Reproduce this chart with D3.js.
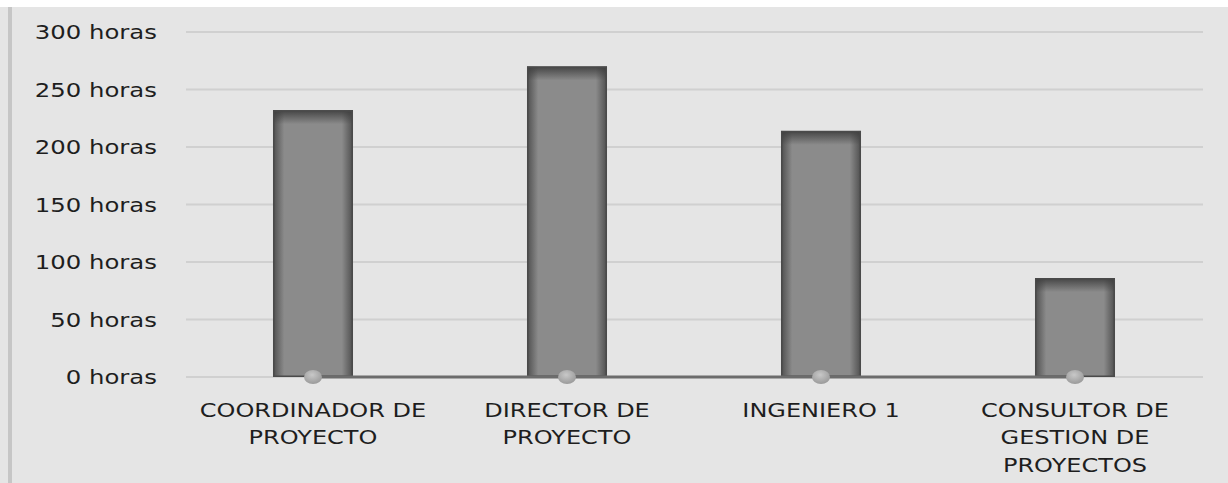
<!DOCTYPE html>
<html>
<head>
<meta charset="utf-8">
<script src="https://cdn.jsdelivr.net/npm/d3@7"></script>
<style>
  html, body { margin: 0; padding: 0; background: #fff; }
  svg { display: block; }
  text { font-family: "DejaVu Sans", Verdana, sans-serif; fill: #1e1e1e; }
</style>
</head>
<body>
<svg id="svg" width="1228" height="483"></svg>
<script>
var categories = [
  ["COORDINADOR DE", "PROYECTO"],
  ["DIRECTOR DE", "PROYECTO"],
  ["INGENIERO 1"],
  ["CONSULTOR DE", "GESTION DE", "PROYECTOS"]
];
var horas = [232, 270, 214, 86];
var lineValues = [0, 0, 0, 0];
var yTicks = [0, 50, 100, 150, 200, 250, 300];

var svg = d3.select("#svg");

// background panel
svg.append("rect").attr("x", 0).attr("y", 7).attr("width", 1228).attr("height", 476).attr("fill", "#e5e5e5");
svg.append("rect").attr("x", 8).attr("y", 7).attr("width", 4).attr("height", 476).attr("fill", "#c6c6c6");

var defs = svg.append("defs");
var gH = defs.append("linearGradient").attr("id", "barH").attr("x1", 0).attr("x2", 1).attr("y1", 0).attr("y2", 0);
gH.append("stop").attr("offset", "0%").attr("stop-color", "#4e4e4e");
gH.append("stop").attr("offset", "14%").attr("stop-color", "#8b8b8b");
gH.append("stop").attr("offset", "86%").attr("stop-color", "#8b8b8b");
gH.append("stop").attr("offset", "100%").attr("stop-color", "#4e4e4e");
var gV = defs.append("linearGradient").attr("id", "barV").attr("x1", 0).attr("x2", 0).attr("y1", 0).attr("y2", 1);
gV.append("stop").attr("offset", "0").attr("stop-color", "#3c3c3c").attr("stop-opacity", 0.9);
gV.append("stop").attr("offset", "1").attr("stop-color", "#3c3c3c").attr("stop-opacity", 0);
var gDot = defs.append("radialGradient").attr("id", "dot").attr("cx", "45%").attr("cy", "35%").attr("r", "65%");
gDot.append("stop").attr("offset", "0%").attr("stop-color", "#c8c8c8");
gDot.append("stop").attr("offset", "100%").attr("stop-color", "#9a9a9a");

var yScale = d3.scaleLinear().domain([0, 300]).range([377, 32]);
var xScale = d3.scaleBand()
  .domain(d3.range(categories.length))
  .range([186, 1202])
  .paddingInner(0.685)
  .paddingOuter(0.3425);

// gridlines
svg.append("g").selectAll("line")
  .data(yTicks)
  .enter()
  .append("line")
  .attr("x1", 186)
  .attr("x2", 1203)
  .attr("y1", (d) => yScale(d))
  .attr("y2", (d) => yScale(d))
  .attr("stroke", "#d0d0d0")
  .attr("stroke-width", 2);

// y labels
svg.append("g").selectAll("text")
  .data(yTicks)
  .enter()
  .append("text")
  .attr("transform", (d) => "translate(157," + (yScale(d) + 7) + ") scale(1.25,1)")
  .attr("text-anchor", "end")
  .attr("font-size", 19.5)
  .text((d) => d + " horas");

// bars
var bars = svg.append("g").selectAll("g")
  .data(horas)
  .enter()
  .append("g");

bars.append("rect")
  .attr("x", (d, i) => xScale(i))
  .attr("y", (d) => yScale(d))
  .attr("width", xScale.bandwidth())
  .attr("height", (d) => yScale(0) - yScale(d))
  .attr("fill", "url(#barH)");

bars.append("rect")
  .attr("x", (d, i) => xScale(i))
  .attr("y", (d) => yScale(d))
  .attr("width", xScale.bandwidth())
  .attr("height", (d) => Math.min(14, yScale(0) - yScale(d)))
  .attr("fill", "url(#barV)");

bars.append("rect")
  .attr("x", (d, i) => xScale(i) + 0.75)
  .attr("y", (d) => yScale(d) + 0.75)
  .attr("width", xScale.bandwidth() - 1.5)
  .attr("height", (d) => yScale(0) - yScale(d) - 1.5)
  .attr("fill", "none")
  .attr("stroke", "#4a4a4a")
  .attr("stroke-width", 1.5);

// zero line series
var cx = (d, i) => xScale(i) + xScale.bandwidth() / 2;
svg.append("path")
  .datum(lineValues)
  .attr("d", d3.line().x(cx).y((d) => yScale(d)))
  .attr("stroke", "#6c6c6c")
  .attr("stroke-width", 3)
  .attr("fill", "none");

svg.append("g").selectAll("ellipse")
  .data(lineValues)
  .enter()
  .append("ellipse")
  .attr("cx", cx)
  .attr("cy", (d) => yScale(d))
  .attr("rx", 9)
  .attr("ry", 7)
  .attr("fill", "url(#dot)");

// x labels
var labels = svg.append("g").selectAll("text")
  .data(categories)
  .enter()
  .append("text")
  .attr("transform", (d, i) => "translate(" + (xScale(i) + xScale.bandwidth() / 2) + ",417) scale(1.2,1)")
  .attr("text-anchor", "middle")
  .attr("font-size", 20);

labels.selectAll("tspan")
  .data((d) => d)
  .enter()
  .append("tspan")
  .attr("x", 0)
  .attr("y", (d, i) => i * 27.5)
  .text((d) => d);
</script>
</body>
</html>
